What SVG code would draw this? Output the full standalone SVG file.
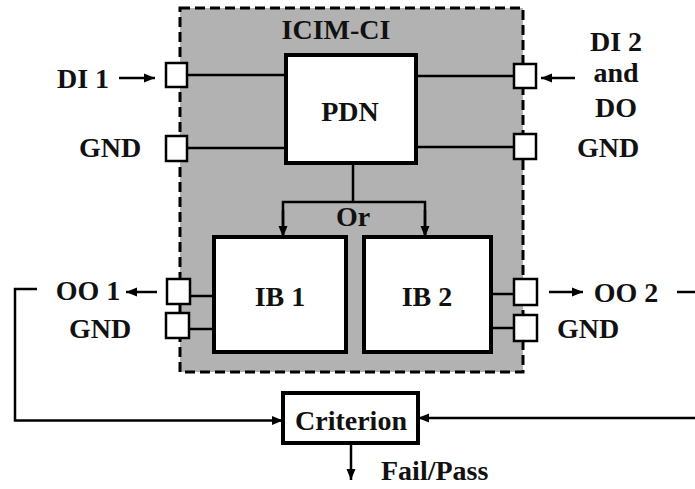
<svg xmlns="http://www.w3.org/2000/svg" width="695" height="489" viewBox="0 0 695 489">
<defs>
<marker id="ah" markerUnits="userSpaceOnUse" markerWidth="12" markerHeight="12" viewBox="0 0 12 12" refX="11" refY="6" orient="auto">
<path d="M0,1.5 L11,6 L0,10.5 Z" fill="#000"/>
</marker>
<style>
.box{fill:#fff;stroke:#000;stroke-width:4}
.port{fill:#fff;stroke:#000;stroke-width:2.5}
.ln{fill:none;stroke:#000;stroke-width:2.5}
.ar{fill:none;stroke:#000;stroke-width:2.5;marker-end:url(#ah)}
</style>
</defs>
<rect width="695" height="489" fill="#fff"/>
<g id="icim-ci">
<rect x="180" y="8" width="343" height="364" fill="#b2b2b2" stroke="#000" stroke-width="3" stroke-dasharray="10 5"/>
<text x="336" y="39" font-family="Liberation Serif" font-size="28" font-weight="bold" text-anchor="middle" fill="#111">ICIM-CI</text>
</g>
<g id="connectors">
<line class="ar" x1="119" y1="78" x2="155" y2="78"/>
<line class="ar" x1="575" y1="78" x2="541" y2="78"/>
<line class="ln" x1="187" y1="75" x2="286" y2="75"/>
<line class="ln" x1="187" y1="148" x2="286" y2="148"/>
<line class="ln" x1="416" y1="76" x2="514" y2="76"/>
<line class="ln" x1="416" y1="147" x2="514" y2="147"/>
<line class="ln" x1="353" y1="163" x2="353" y2="202" stroke-width="3.5"/>
<path class="ln" d="M283,237 V202 H425 V237" stroke-width="3.5"/>
<line class="ar" x1="283" y1="210" x2="283" y2="237"/>
<line class="ar" x1="425" y1="210" x2="425" y2="237"/>
<line class="ln" x1="190" y1="296" x2="214" y2="296"/>
<line class="ln" x1="189" y1="329" x2="214" y2="329"/>
<line class="ln" x1="491" y1="294" x2="514" y2="294"/>
<line class="ln" x1="491" y1="328" x2="514" y2="328"/>
<line class="ar" x1="157" y1="292" x2="126" y2="292"/>
<line class="ar" x1="549" y1="292" x2="583" y2="292"/>
<line class="ln" x1="677" y1="292" x2="695" y2="292"/>
<path class="ar" d="M37,289 H15 V420.5 H283"/>
<line class="ar" x1="695" y1="418" x2="418" y2="418"/>
<line class="ar" x1="351" y1="443" x2="351" y2="480"/>
</g>
<g id="port-di1"><rect class="port" x="166" y="63" width="21" height="24"/><text x="83" y="88" font-family="Liberation Serif" font-size="28" font-weight="bold" text-anchor="middle" fill="#111">DI 1</text></g>
<g id="port-gnd1"><rect class="port" x="166" y="136" width="21" height="25"/><text x="110" y="157" font-family="Liberation Serif" font-size="28" font-weight="bold" text-anchor="middle" fill="#111">GND</text></g>
<g id="port-di2"><rect class="port" x="514" y="64" width="22" height="24"/><text x="616" y="51" font-family="Liberation Serif" font-size="28" font-weight="bold" text-anchor="middle" fill="#111">DI 2</text><text x="616" y="82" font-family="Liberation Serif" font-size="28" font-weight="bold" text-anchor="middle" fill="#111">and</text><text x="616" y="117" font-family="Liberation Serif" font-size="28" font-weight="bold" text-anchor="middle" fill="#111">DO</text></g>
<g id="port-gnd2"><rect class="port" x="514" y="134" width="22" height="25"/><text x="608" y="157" font-family="Liberation Serif" font-size="28" font-weight="bold" text-anchor="middle" fill="#111">GND</text></g>
<g id="pdn"><rect class="box" x="286" y="55" width="130" height="108"/><text x="350" y="121" font-family="Liberation Serif" font-size="28" font-weight="bold" text-anchor="middle" fill="#111">PDN</text></g>
<g id="or"><text x="353" y="226" font-family="Liberation Serif" font-size="28" font-weight="bold" text-anchor="middle" fill="#111">Or</text></g>
<g id="ib1"><rect class="box" x="214" y="237" width="132" height="115"/><text x="280" y="306" font-family="Liberation Serif" font-size="28" font-weight="bold" text-anchor="middle" fill="#111">IB 1</text></g>
<g id="ib2"><rect class="box" x="364" y="237" width="127" height="115"/><text x="427" y="306" font-family="Liberation Serif" font-size="28" font-weight="bold" text-anchor="middle" fill="#111">IB 2</text></g>
<g id="port-oo1"><rect class="port" x="167" y="279" width="23" height="25"/><text x="88" y="300" font-family="Liberation Serif" font-size="28" font-weight="bold" text-anchor="middle" fill="#111">OO 1</text></g>
<g id="port-gnd3"><rect class="port" x="166" y="313" width="23" height="25"/><text x="100" y="338" font-family="Liberation Serif" font-size="28" font-weight="bold" text-anchor="middle" fill="#111">GND</text></g>
<g id="port-oo2"><rect class="port" x="514" y="279" width="23" height="26"/><text x="626" y="302" font-family="Liberation Serif" font-size="28" font-weight="bold" text-anchor="middle" fill="#111">OO 2</text></g>
<g id="port-gnd4"><rect class="port" x="514" y="315" width="23" height="26"/><text x="588" y="338" font-family="Liberation Serif" font-size="28" font-weight="bold" text-anchor="middle" fill="#111">GND</text></g>
<g id="criterion"><rect class="box" x="283" y="393" width="135" height="50" stroke-width="3.5"/><text x="351" y="430" font-family="Liberation Serif" font-size="28" font-weight="bold" text-anchor="middle" fill="#111">Criterion</text></g>
<g id="failpass"><text x="381" y="480" font-family="Liberation Serif" font-size="28" font-weight="bold" fill="#111">Fail/Pass</text></g>
</svg>
